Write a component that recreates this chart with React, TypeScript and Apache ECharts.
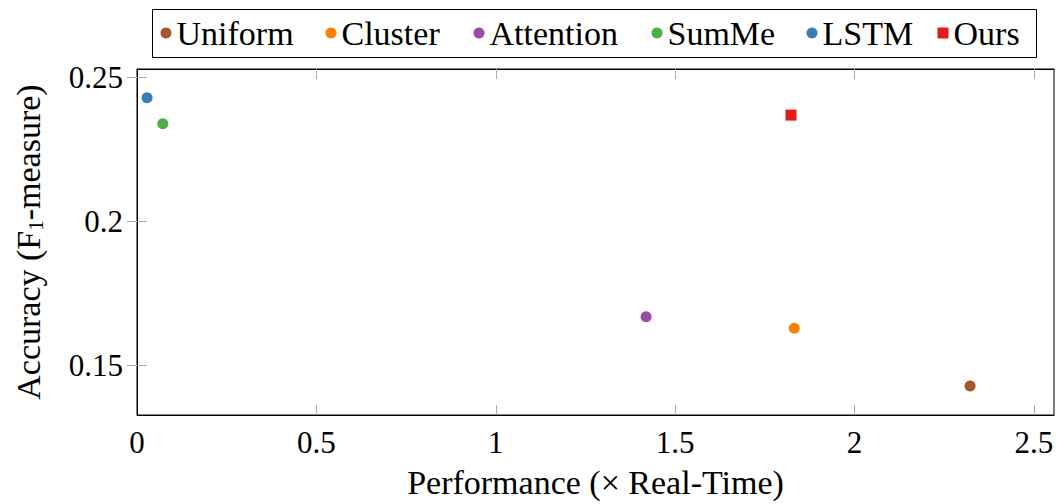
import React, { useEffect, useRef } from "react";
import * as echarts from "echarts";

const methods = ["Uniform", "Cluster", "Attention", "SumMe", "LSTM", "Ours"];
const performance = [2.322, 1.832, 1.419, 0.072, 0.028, 1.823];
const accuracy = [0.143, 0.163, 0.167, 0.234, 0.243, 0.237];
const colors = ["#a65628", "#ff7f00", "#984ea3", "#4daf4a", "#377eb8", "#e41a1c"];
const symbols = ["circle", "circle", "circle", "circle", "circle", "rect"];
const xTicks = [0, 0.5, 1, 1.5, 2, 2.5];
const yTicks = [0.15, 0.2, 0.25];
const legendLefts = [160.5, 325.5, 473.5, 651.5, 806.5, 937.5];

const FONT = "Liberation Serif";

export default function App() {
  const ref = useRef<HTMLDivElement>(null);
  useEffect(() => {
    if (!ref.current) return;
    const chart = echarts.init(ref.current, null, { renderer: "svg" });
    const tickStyle = { show: true, inside: true, length: 10, lineStyle: { color: "#aaaaaa", width: 1 } };
    const axisLine = { show: true, lineStyle: { color: "#000", width: 1 } };
    const xMin = 0, xMax = 2.556, yMin = 0.1329, yMax = 0.253;
    const xTickMarks = xTicks.filter((v) => v > xMin);
    chart.setOption({
      animation: false,
      grid: { left: 137, right: 7, top: 69, bottom: 89, show: true, borderColor: "#000", borderWidth: 1 },
      legend: methods.map((m, i) => ({
        data: [{ name: m, icon: symbols[i] }],
        left: legendLefts[i],
        top: 16,
        padding: 0,
        itemWidth: 11,
        itemHeight: 11,
        textStyle: { fontFamily: FONT, fontSize: 34, color: "#000" },
        selectedMode: false,
      })),
      graphic: [
        {
          type: "rect",
          shape: { x: 152.5, y: 9.5, width: 884, height: 48 },
          style: { fill: "none", stroke: "#000", lineWidth: 1 },
          silent: true,
        },
      ],
      xAxis: [
        {
          type: "value",
          min: xMin,
          max: xMax,
          position: "bottom",
          axisLine,
          axisTick: { ...tickStyle, customValues: xTickMarks },
          axisLabel: { customValues: xTicks, fontFamily: FONT, fontSize: 31, color: "#000", margin: 12 },
          splitLine: { show: false },
          name: "Performance (× Real-Time)",
          nameLocation: "middle",
          nameGap: 50,
          nameTextStyle: { fontFamily: FONT, fontSize: 34, color: "#000" },
        },
        {
          type: "value",
          min: xMin,
          max: xMax,
          position: "top",
          axisLine,
          axisTick: { ...tickStyle, customValues: xTickMarks },
          axisLabel: { show: false },
          splitLine: { show: false },
        },
      ],
      yAxis: [
        {
          type: "value",
          min: yMin,
          max: yMax,
          position: "left",
          axisLine,
          axisTick: { ...tickStyle, customValues: yTicks },
          axisLabel: { customValues: yTicks, fontFamily: FONT, fontSize: 31, color: "#000", margin: 14 },
          splitLine: { show: false },
          name: "Accuracy (F{sub|1}-measure)",
          nameLocation: "middle",
          nameGap: 91,
          nameRotate: 90,
          nameTextStyle: {
            fontFamily: FONT,
            fontSize: 34,
            color: "#000",
            rich: { sub: { fontFamily: FONT, fontSize: 21, color: "#000", padding: [15, 0, 0, 0] } },
          },
        },
        {
          type: "value",
          min: yMin,
          max: yMax,
          position: "right",
          axisLine,
          axisTick: { ...tickStyle, customValues: yTicks },
          axisLabel: { show: false },
          splitLine: { show: false },
        },
      ],
      series: methods.map((m, i) => ({
        name: m,
        type: "scatter",
        xAxisIndex: 0,
        yAxisIndex: 0,
        symbol: symbols[i],
        symbolSize: 11,
        itemStyle: { color: colors[i], opacity: 1 },
        data: [[performance[i], accuracy[i]]],
      })),
    });
    return () => chart.dispose();
  }, []);
  return (
    <div
      ref={ref}
      style={{ position: "fixed", left: 0, top: 0, width: 1061, height: 504, background: "#fff" }}
    />
  );
}
